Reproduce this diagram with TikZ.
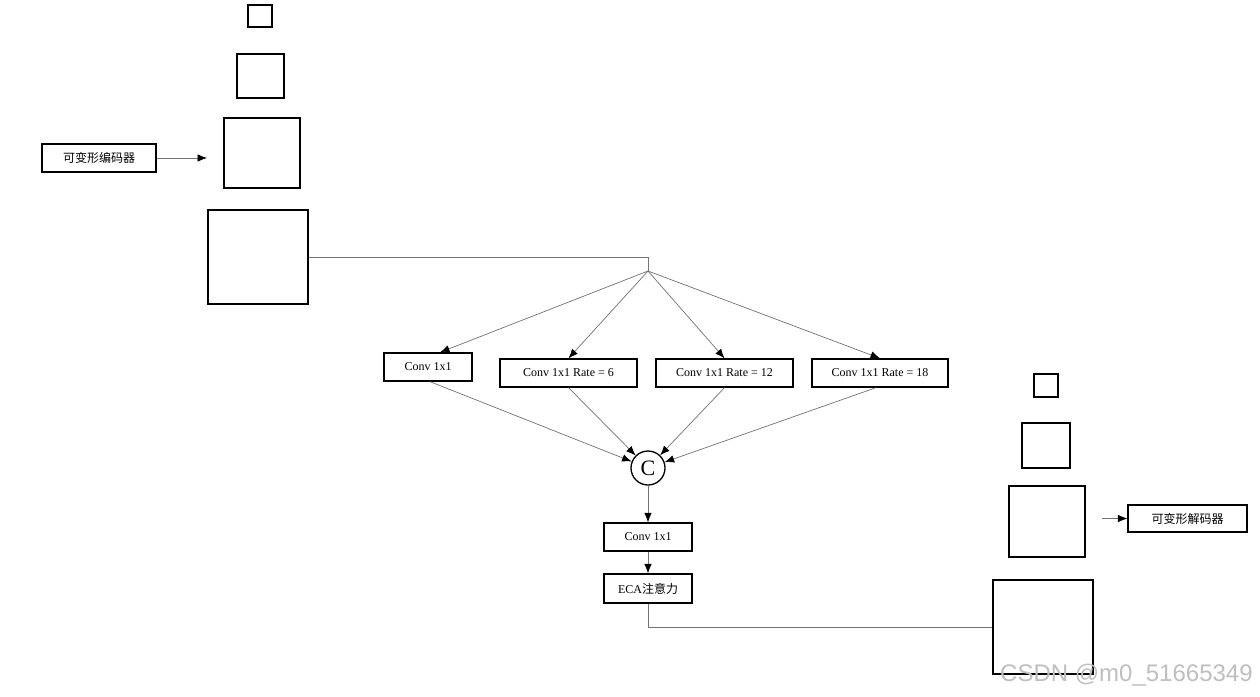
\documentclass[tikz,border=0pt]{standalone}
\usepackage{fontspec}
\setmainfont{Liberation Serif}
\newfontfamily\cjk{Noto Sans CJK SC}
\newfontfamily\wmfont{Liberation Sans}
\usetikzlibrary{arrows.meta,calc}
\begin{document}
\begin{tikzpicture}[x=1pt,y=-1pt,
  sq/.style={draw=black, line width=1.3pt, inner sep=0pt},
  box/.style={draw=black, line width=1.3pt, inner sep=0pt, minimum height=28pt, font=\fontsize{12}{14}\selectfont},
  conn/.style={draw=black!55, line width=0.7pt},
  arr/.style={conn, -{Latex[black,length=9.5pt,width=7.5pt]}}]
\useasboundingbox[fill=white] (0,0) rectangle (1260,696);
% left stack
\node[sq, minimum width=24pt, minimum height=22pt] (l1) at (260,16) {};
\node[sq, minimum width=47pt, minimum height=44pt] (l2) at (260.5,76) {};
\node[sq, minimum width=76pt, minimum height=70pt] (l3) at (262,153) {};
\node[sq, minimum width=100pt, minimum height=94pt] (l4) at (258,257) {};
\node[box, minimum width=114pt] (enc) at (99,158) {\cjk 可变形编码器};
\coordinate (ea) at (207,158);
\draw[arr] (enc.east) -- (ea);
% junction
\coordinate (j) at (648,271);
\draw[conn] (l4.east) -| (j);
% branch boxes
\node[box, minimum width=88pt] (c0) at (428,367) {Conv 1x1};
\node[box, minimum width=137pt] (c6) at (568.5,373) {Conv 1x1 Rate = 6};
\node[box, minimum width=137pt] (c12) at (724.5,373) {Conv 1x1 Rate = 12};
\node[box, minimum width=136pt] (c18) at (880,373) {Conv 1x1 Rate = 18};
\draw[arr] (j) -- ($(c0.north)+(12,0)$);
\draw[arr] (j) -- (c6.north);
\draw[arr] (j) -- (c12.north);
\draw[arr] (j) -- (c18.north);
% concat
\node[circle, draw=black, line width=1.3pt, minimum size=34pt, inner sep=0pt, font=\fontsize{22}{24}\selectfont] (cc) at (648,468) {C};
\draw[arr] ($(c0.south)+(2,0)$) -- (cc);
\draw[arr] (c6.south) -- (cc);
\draw[arr] (c12.south) -- (cc);
\draw[arr] ($(c18.south)+(-4,0)$) -- (cc);
\node[box, minimum width=88pt] (cv) at (648,537) {Conv 1x1};
\node[box, minimum width=88pt, minimum height=29pt] (eca) at (648,588.5) {ECA{\cjk 注意力}};
\draw[arr] (cc.south) -- (cv.north);
\draw[arr] (cv.south) -- (eca.north);
% right stack
\node[sq, minimum width=24pt, minimum height=23pt] (r1) at (1046,385.5) {};
\node[sq, minimum width=48pt, minimum height=45pt] (r2) at (1046,445.5) {};
\node[sq, minimum width=76pt, minimum height=71pt] (r3) at (1047,521.5) {};
\node[sq, minimum width=100pt, minimum height=94pt] (r4) at (1043,627) {};
\draw[conn] (eca.south) |- (r4.west);
\node[box, minimum width=119pt, minimum height=27pt] (dec) at (1187.5,518.5) {\cjk 可变形解码器};
\coordinate (da) at (1102,518.5);
\draw[arr] (da) -- (dec.west);
% watermark
\node[anchor=base west, inner sep=0pt, text=black!25, font=\wmfont\fontsize{24}{26}\selectfont] (wm) at (1000,681) {CSDN @m0\_51665349};
\end{tikzpicture}
\end{document}
